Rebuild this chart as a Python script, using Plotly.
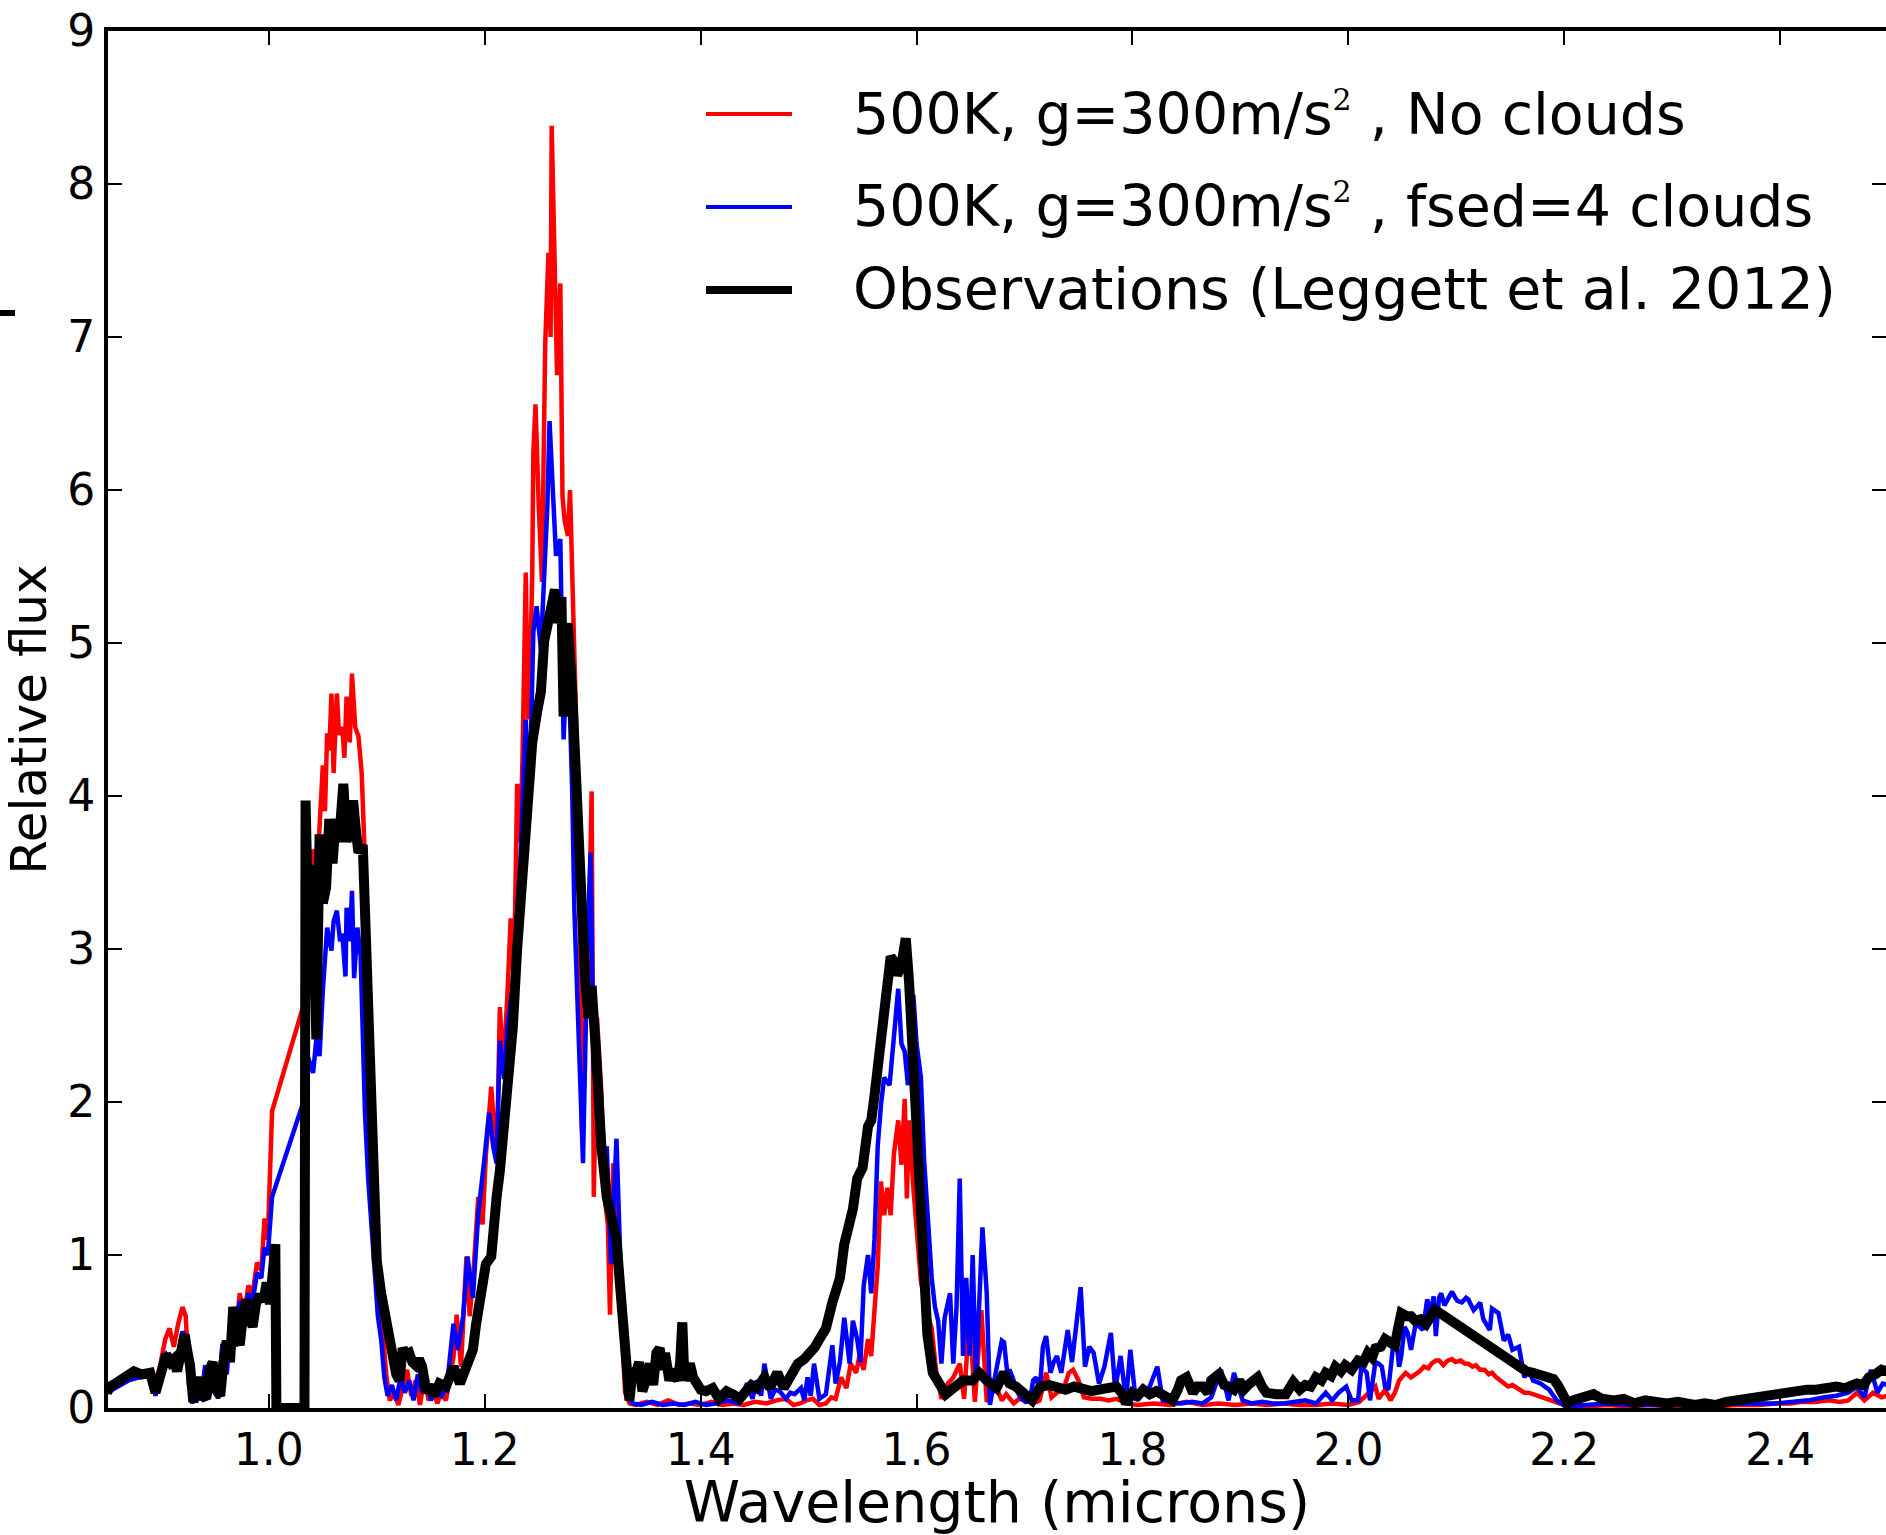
import plotly.graph_objects as go

# ---------------- data ----------------
# Model spectrum, 500K, g=300 m/s^2, no clouds  (wavelength micron, relative flux)
red_pts = [
    (0.850, 0.10), (0.860, 0.15), (0.870, 0.20), (0.880, 0.22), (0.890, 0.22), (0.895, 0.12),
    (0.900, 0.30), (0.904, 0.45), (0.908, 0.52), (0.912, 0.40), (0.916, 0.55), (0.920, 0.66),
    (0.923, 0.60), (0.926, 0.20), (0.929, 0.03), (0.933, 0.15), (0.937, 0.05), (0.941, 0.25),
    (0.945, 0.10), (0.949, 0.30), (0.953, 0.08), (0.957, 0.40), (0.961, 0.25), (0.965, 0.55),
    (0.969, 0.45), (0.973, 0.75), (0.977, 0.60), (0.981, 0.80), (0.985, 0.75), (0.989, 0.95),
    (0.993, 0.90), (0.996, 1.24), (0.999, 1.10), (1.001, 1.60), (1.003, 1.94), (1.032, 2.63),
    (1.036, 2.95), (1.041, 3.65), (1.045, 3.55), (1.047, 3.80), (1.050, 4.20), (1.052, 3.90),
    (1.054, 4.41), (1.056, 4.30), (1.058, 4.67), (1.060, 4.15), (1.063, 4.67), (1.065, 4.40),
    (1.068, 4.45), (1.070, 4.25), (1.072, 4.65), (1.075, 4.35), (1.077, 4.80), (1.080, 4.45),
    (1.083, 4.39), (1.086, 4.15), (1.089, 3.60), (1.092, 3.00), (1.095, 2.20), (1.098, 1.50),
    (1.100, 1.10), (1.103, 0.70), (1.106, 0.40), (1.109, 0.20), (1.112, 0.05), (1.116, 0.10),
    (1.120, 0.02), (1.124, 0.15), (1.128, 0.25), (1.132, 0.08), (1.136, 0.18), (1.140, 0.02),
    (1.144, 0.20), (1.148, 0.05), (1.152, 0.12), (1.156, 0.03), (1.160, 0.10), (1.164, 0.05),
    (1.168, 0.20), (1.171, 0.33), (1.174, 0.61), (1.178, 0.27), (1.183, 0.99), (1.186, 0.60),
    (1.189, 0.83), (1.194, 1.38), (1.198, 1.20), (1.201, 1.65), (1.206, 2.10), (1.209, 1.80),
    (1.211, 1.60), (1.214, 2.62), (1.217, 2.20), (1.221, 2.70), (1.224, 3.20), (1.227, 2.76),
    (1.230, 4.08), (1.233, 3.70), (1.235, 4.26), (1.238, 5.46), (1.240, 4.50), (1.242, 4.80),
    (1.244, 5.46), (1.245, 6.24), (1.247, 6.56), (1.250, 5.90), (1.253, 5.40), (1.255, 6.45),
    (1.256, 6.95), (1.259, 7.55), (1.261, 7.00), (1.262, 8.38), (1.263, 7.98), (1.265, 7.30),
    (1.267, 6.75), (1.270, 7.35), (1.272, 5.96), (1.274, 5.80), (1.277, 5.70), (1.279, 6.00),
    (1.281, 5.46), (1.284, 4.50), (1.287, 3.85), (1.290, 1.82), (1.293, 2.50), (1.296, 2.90),
    (1.299, 4.03), (1.301, 1.38), (1.304, 2.55), (1.308, 2.06), (1.311, 1.38), (1.314, 1.20),
    (1.316, 0.61), (1.319, 1.60), (1.322, 1.00), (1.325, 0.83), (1.328, 0.40), (1.330, 0.10),
    (1.334, 0.03), (1.340, 0.02), (1.350, 0.04), (1.360, 0.02), (1.370, 0.05), (1.380, 0.02),
    (1.390, 0.03), (1.400, 0.02), (1.410, 0.04), (1.420, 0.02), (1.430, 0.03), (1.440, 0.02),
    (1.450, 0.04), (1.461, 0.03), (1.470, 0.05), (1.479, 0.06), (1.486, 0.02), (1.492, 0.03),
    (1.498, 0.05), (1.504, 0.06), (1.510, 0.02), (1.516, 0.03), (1.521, 0.07), (1.525, 0.06),
    (1.530, 0.20), (1.535, 0.13), (1.539, 0.29), (1.544, 0.23), (1.547, 0.34), (1.551, 0.25),
    (1.555, 0.45), (1.558, 0.34), (1.561, 0.64), (1.564, 0.92), (1.567, 1.48), (1.570, 1.26),
    (1.573, 1.44), (1.576, 1.26), (1.579, 1.66), (1.583, 1.88), (1.586, 1.59), (1.589, 2.02),
    (1.591, 1.37), (1.593, 1.88), (1.597, 1.44), (1.601, 1.10), (1.604, 0.83), (1.609, 0.64),
    (1.614, 0.52), (1.618, 0.25), (1.623, 0.06), (1.629, 0.16), (1.634, 0.20), (1.640, 0.29),
    (1.644, 0.06), (1.649, 0.61), (1.654, 0.04), (1.660, 0.64), (1.665, 0.04), (1.670, 0.10),
    (1.674, 0.13), (1.679, 0.05), (1.683, 0.09), (1.690, 0.03), (1.695, 0.06), (1.700, 0.05),
    (1.708, 0.03), (1.714, 0.05), (1.720, 0.23), (1.725, 0.07), (1.730, 0.10), (1.736, 0.12),
    (1.741, 0.23), (1.745, 0.25), (1.750, 0.18), (1.755, 0.07), (1.762, 0.06), (1.770, 0.06),
    (1.778, 0.05), (1.785, 0.06), (1.794, 0.03), (1.805, 0.02), (1.820, 0.03), (1.835, 0.02),
    (1.850, 0.04), (1.865, 0.02), (1.880, 0.03), (1.895, 0.02), (1.910, 0.03), (1.925, 0.02),
    (1.940, 0.03), (1.955, 0.02), (1.970, 0.02), (1.985, 0.03), (2.000, 0.02), (2.010, 0.04),
    (2.019, 0.10), (2.025, 0.14), (2.028, 0.06), (2.032, 0.10), (2.034, 0.12), (2.039, 0.05),
    (2.043, 0.10), (2.047, 0.18), (2.053, 0.23), (2.058, 0.20), (2.062, 0.22), (2.066, 0.24),
    (2.070, 0.27), (2.074, 0.26), (2.077, 0.29), (2.081, 0.31), (2.084, 0.31), (2.088, 0.28),
    (2.092, 0.31), (2.096, 0.32), (2.099, 0.30), (2.104, 0.31), (2.108, 0.29), (2.111, 0.29),
    (2.115, 0.27), (2.118, 0.28), (2.122, 0.25), (2.126, 0.25), (2.130, 0.22), (2.133, 0.23),
    (2.137, 0.20), (2.141, 0.18), (2.145, 0.16), (2.148, 0.14), (2.152, 0.15), (2.156, 0.13),
    (2.160, 0.11), (2.163, 0.10), (2.167, 0.10), (2.171, 0.09), (2.175, 0.08), (2.178, 0.07),
    (2.182, 0.06), (2.186, 0.05), (2.193, 0.03), (2.200, 0.02), (2.220, 0.01), (2.240, 0.02),
    (2.260, 0.01), (2.280, 0.02), (2.300, 0.01), (2.320, 0.02), (2.340, 0.01), (2.360, 0.02),
    (2.380, 0.02), (2.396, 0.03), (2.410, 0.03), (2.420, 0.04), (2.433, 0.04), (2.445, 0.05),
    (2.455, 0.04), (2.463, 0.05), (2.471, 0.10), (2.478, 0.05), (2.486, 0.10), (2.494, 0.07),
    (2.500, 0.08),
]

# Model spectrum, 500K, g=300 m/s^2, fsed=4 clouds
blue_pts = [
    (0.850, 0.10), (0.860, 0.14), (0.870, 0.18), (0.880, 0.20), (0.890, 0.21), (0.895, 0.08),
    (0.900, 0.28), (0.905, 0.35), (0.910, 0.30), (0.915, 0.32), (0.920, 0.50), (0.923, 0.45),
    (0.926, 0.15), (0.929, 0.03), (0.933, 0.18), (0.937, 0.05), (0.941, 0.28), (0.945, 0.08),
    (0.949, 0.30), (0.953, 0.06), (0.957, 0.42), (0.961, 0.22), (0.965, 0.60), (0.969, 0.40),
    (0.973, 0.70), (0.977, 0.55), (0.981, 0.75), (0.985, 0.70), (0.989, 0.88), (0.993, 0.85),
    (0.996, 1.05), (0.999, 1.00), (1.001, 1.24), (1.003, 1.38), (1.032, 2.00), (1.036, 2.30),
    (1.041, 2.19), (1.044, 2.41), (1.047, 2.30), (1.050, 2.73), (1.054, 3.14), (1.058, 2.99),
    (1.060, 3.18), (1.063, 3.25), (1.066, 3.05), (1.068, 3.10), (1.071, 2.82), (1.072, 3.27),
    (1.075, 3.05), (1.077, 3.38), (1.079, 2.81), (1.082, 3.14), (1.085, 2.96), (1.087, 2.50),
    (1.089, 1.94), (1.092, 1.50), (1.095, 1.20), (1.098, 0.90), (1.101, 0.60), (1.104, 0.45),
    (1.107, 0.20), (1.110, 0.08), (1.114, 0.15), (1.118, 0.05), (1.122, 0.20), (1.126, 0.10),
    (1.130, 0.18), (1.134, 0.05), (1.138, 0.22), (1.142, 0.10), (1.146, 0.20), (1.150, 0.05),
    (1.155, 0.12), (1.160, 0.08), (1.165, 0.15), (1.171, 0.55), (1.175, 0.38), (1.180, 0.60),
    (1.184, 0.99), (1.189, 0.72), (1.194, 1.27), (1.200, 1.65), (1.204, 1.93), (1.208, 1.70),
    (1.211, 1.60), (1.214, 2.40), (1.218, 2.15), (1.221, 2.50), (1.226, 2.76), (1.229, 3.13),
    (1.233, 3.57), (1.238, 4.50), (1.241, 3.85), (1.245, 5.07), (1.248, 5.24), (1.252, 4.96),
    (1.255, 5.40), (1.258, 5.90), (1.260, 6.45), (1.263, 6.07), (1.266, 5.57), (1.270, 5.68),
    (1.273, 4.37), (1.277, 5.02), (1.281, 4.03), (1.283, 3.26), (1.285, 2.87), (1.288, 2.27),
    (1.291, 1.60), (1.295, 3.00), (1.298, 3.63), (1.301, 2.20), (1.305, 2.38), (1.310, 1.60),
    (1.313, 1.71), (1.317, 0.94), (1.322, 1.76), (1.327, 0.66), (1.331, 0.10), (1.337, 0.03),
    (1.345, 0.02), (1.355, 0.04), (1.365, 0.02), (1.375, 0.03), (1.385, 0.02), (1.395, 0.04),
    (1.405, 0.02), (1.415, 0.03), (1.425, 0.05), (1.435, 0.03), (1.443, 0.16), (1.448, 0.06),
    (1.452, 0.18), (1.456, 0.08), (1.459, 0.29), (1.465, 0.06), (1.469, 0.12), (1.473, 0.11),
    (1.479, 0.06), (1.483, 0.10), (1.487, 0.09), (1.493, 0.13), (1.496, 0.05), (1.499, 0.20),
    (1.502, 0.08), (1.505, 0.29), (1.510, 0.06), (1.516, 0.09), (1.522, 0.41), (1.525, 0.16),
    (1.529, 0.30), (1.533, 0.59), (1.538, 0.29), (1.541, 0.57), (1.545, 0.45), (1.548, 0.30),
    (1.551, 0.80), (1.555, 1.00), (1.558, 0.75), (1.561, 1.10), (1.564, 1.71), (1.567, 1.98),
    (1.570, 2.16), (1.575, 2.11), (1.578, 2.38), (1.581, 2.56), (1.583, 2.74), (1.586, 2.38),
    (1.589, 2.33), (1.592, 2.11), (1.597, 2.70), (1.600, 2.38), (1.604, 2.16), (1.607, 1.62),
    (1.610, 1.26), (1.614, 0.85), (1.617, 0.66), (1.620, 0.57), (1.623, 0.29), (1.626, 0.59),
    (1.631, 0.75), (1.634, 0.29), (1.637, 0.66), (1.640, 1.50), (1.643, 0.34), (1.646, 0.85),
    (1.649, 0.34), (1.652, 1.00), (1.655, 0.18), (1.658, 0.73), (1.661, 1.18), (1.665, 0.75),
    (1.668, 0.02), (1.672, 0.18), (1.677, 0.36), (1.679, 0.44), (1.681, 0.43), (1.684, 0.23),
    (1.686, 0.25), (1.689, 0.20), (1.692, 0.13), (1.696, 0.07), (1.701, 0.04), (1.705, 0.05),
    (1.708, 0.18), (1.711, 0.20), (1.714, 0.10), (1.717, 0.40), (1.720, 0.47), (1.724, 0.23),
    (1.727, 0.30), (1.730, 0.34), (1.734, 0.23), (1.740, 0.51), (1.744, 0.30), (1.749, 0.60),
    (1.752, 0.79), (1.756, 0.27), (1.760, 0.40), (1.764, 0.36), (1.769, 0.16), (1.774, 0.27),
    (1.780, 0.49), (1.784, 0.12), (1.789, 0.34), (1.794, 0.05), (1.798, 0.38), (1.803, 0.05),
    (1.810, 0.10), (1.816, 0.14), (1.823, 0.27), (1.828, 0.05), (1.835, 0.04), (1.845, 0.03),
    (1.855, 0.04), (1.865, 0.03), (1.873, 0.07), (1.882, 0.25), (1.889, 0.05), (1.894, 0.23),
    (1.902, 0.05), (1.910, 0.03), (1.920, 0.04), (1.930, 0.03), (1.940, 0.03), (1.950, 0.04),
    (1.960, 0.05), (1.970, 0.03), (1.979, 0.10), (1.985, 0.05), (1.991, 0.10), (1.998, 0.14),
    (2.003, 0.05), (2.009, 0.05), (2.012, 0.27), (2.017, 0.23), (2.020, 0.05), (2.025, 0.30),
    (2.028, 0.29), (2.031, 0.27), (2.034, 0.14), (2.037, 0.12), (2.041, 0.38), (2.044, 0.47),
    (2.047, 0.27), (2.049, 0.34), (2.052, 0.53), (2.055, 0.49), (2.058, 0.38), (2.063, 0.58),
    (2.066, 0.53), (2.069, 0.51), (2.073, 0.71), (2.076, 0.62), (2.079, 0.73), (2.081, 0.47),
    (2.084, 0.72), (2.086, 0.75), (2.089, 0.67), (2.092, 0.71), (2.096, 0.76), (2.099, 0.72),
    (2.101, 0.70), (2.105, 0.69), (2.109, 0.72), (2.111, 0.71), (2.116, 0.64), (2.120, 0.67),
    (2.122, 0.69), (2.125, 0.58), (2.128, 0.55), (2.131, 0.51), (2.133, 0.65), (2.139, 0.62),
    (2.144, 0.44), (2.148, 0.48), (2.152, 0.38), (2.158, 0.40), (2.163, 0.20), (2.167, 0.25),
    (2.171, 0.18), (2.178, 0.16), (2.182, 0.14), (2.186, 0.12), (2.193, 0.05), (2.201, 0.01),
    (2.220, 0.02), (2.240, 0.03), (2.260, 0.02), (2.280, 0.02), (2.300, 0.02), (2.320, 0.02),
    (2.340, 0.02), (2.358, 0.03), (2.380, 0.03), (2.396, 0.03), (2.410, 0.04), (2.426, 0.05),
    (2.441, 0.07), (2.452, 0.08), (2.463, 0.10), (2.471, 0.14), (2.478, 0.07), (2.484, 0.25),
    (2.490, 0.10), (2.495, 0.16), (2.500, 0.15),
]

# Observations (Leggett et al. 2012)
obs_pts = [
    (0.850, 0.10), (0.853, 0.14), (0.860, 0.17), (0.868, 0.20), (0.875, 0.24), (0.882, 0.22),
    (0.890, 0.23), (0.895, 0.10), (0.902, 0.27), (0.905, 0.35), (0.909, 0.30), (0.912, 0.32),
    (0.915, 0.24), (0.919, 0.40), (0.922, 0.48), (0.925, 0.35), (0.927, 0.28), (0.930, 0.04),
    (0.933, 0.12), (0.936, 0.20), (0.939, 0.08), (0.942, 0.06), (0.945, 0.25), (0.948, 0.30),
    (0.951, 0.12), (0.955, 0.08), (0.958, 0.30), (0.961, 0.44), (0.964, 0.30), (0.967, 0.66),
    (0.970, 0.50), (0.973, 0.41), (0.976, 0.60), (0.979, 0.71), (0.982, 0.60), (0.985, 0.53),
    (0.988, 0.68), (0.992, 0.74), (0.995, 0.70), (0.998, 0.82), (1.001, 0.68), (1.004, 0.95),
    (1.006, 1.07), (1.007, 0.00), (1.033, 0.00), (1.034, 3.97), (1.037, 3.00), (1.040, 3.55),
    (1.044, 2.41), (1.047, 3.75), (1.050, 3.30), (1.053, 3.40), (1.056, 3.85), (1.059, 3.56),
    (1.062, 3.85), (1.065, 3.70), (1.069, 4.08), (1.072, 3.70), (1.075, 3.85), (1.078, 3.97),
    (1.081, 3.75), (1.083, 3.63), (1.087, 3.68), (1.091, 2.91), (1.094, 2.10), (1.097, 1.52),
    (1.100, 0.96), (1.104, 0.75), (1.109, 0.55), (1.113, 0.36), (1.118, 0.22), (1.121, 0.18),
    (1.124, 0.39), (1.127, 0.35), (1.130, 0.36), (1.133, 0.30), (1.136, 0.28), (1.139, 0.32),
    (1.142, 0.27), (1.146, 0.10), (1.150, 0.15), (1.153, 0.08), (1.158, 0.16), (1.164, 0.14),
    (1.168, 0.20), (1.171, 0.27), (1.177, 0.16), (1.180, 0.22), (1.183, 0.27), (1.186, 0.32),
    (1.189, 0.38), (1.192, 0.55), (1.195, 0.72), (1.198, 0.80), (1.201, 0.94), (1.206, 0.99),
    (1.208, 1.20), (1.211, 1.38), (1.214, 1.55), (1.217, 1.76), (1.221, 2.10), (1.224, 2.30),
    (1.226, 2.49), (1.230, 3.00), (1.232, 3.20), (1.235, 3.46), (1.240, 3.96), (1.244, 4.35),
    (1.249, 4.57), (1.252, 4.68), (1.255, 5.01), (1.258, 5.13), (1.262, 5.24), (1.265, 5.35),
    (1.268, 5.13), (1.271, 5.30), (1.273, 4.52), (1.277, 5.13), (1.281, 4.68), (1.284, 4.13),
    (1.287, 3.57), (1.290, 3.18), (1.293, 2.80), (1.296, 2.55), (1.299, 2.76), (1.303, 2.33),
    (1.306, 1.88), (1.308, 1.71), (1.313, 1.38), (1.317, 1.22), (1.322, 1.10), (1.325, 0.83),
    (1.328, 0.55), (1.331, 0.15), (1.334, 0.05), (1.337, 0.25), (1.340, 0.23), (1.343, 0.30),
    (1.346, 0.11), (1.350, 0.20), (1.353, 0.29), (1.356, 0.15), (1.359, 0.36), (1.362, 0.39),
    (1.365, 0.25), (1.367, 0.36), (1.371, 0.18), (1.374, 0.25), (1.379, 0.18), (1.381, 0.30),
    (1.383, 0.56), (1.385, 0.18), (1.390, 0.29), (1.393, 0.20), (1.396, 0.16), (1.400, 0.12),
    (1.405, 0.11), (1.411, 0.13), (1.417, 0.06), (1.424, 0.11), (1.430, 0.09), (1.436, 0.06),
    (1.442, 0.11), (1.447, 0.15), (1.452, 0.13), (1.459, 0.20), (1.464, 0.13), (1.468, 0.18),
    (1.471, 0.23), (1.477, 0.13), (1.484, 0.23), (1.490, 0.29), (1.496, 0.32), (1.502, 0.36),
    (1.506, 0.40), (1.510, 0.45), (1.516, 0.52), (1.522, 0.69), (1.529, 0.85), (1.533, 1.07),
    (1.538, 1.21), (1.541, 1.30), (1.545, 1.50), (1.550, 1.57), (1.555, 1.84), (1.558, 1.88),
    (1.561, 2.04), (1.564, 2.24), (1.567, 2.47), (1.570, 2.65), (1.573, 2.79), (1.576, 2.95),
    (1.579, 2.92), (1.582, 2.83), (1.586, 2.90), (1.590, 3.07), (1.593, 2.79), (1.595, 2.51),
    (1.598, 2.11), (1.601, 1.66), (1.604, 1.21), (1.607, 0.80), (1.610, 0.48), (1.615, 0.23),
    (1.621, 0.16), (1.627, 0.09), (1.634, 0.13), (1.643, 0.18), (1.652, 0.18), (1.658, 0.23),
    (1.665, 0.18), (1.674, 0.13), (1.681, 0.23), (1.686, 0.16), (1.692, 0.14), (1.700, 0.08),
    (1.707, 0.05), (1.711, 0.10), (1.715, 0.14), (1.723, 0.15), (1.730, 0.13), (1.738, 0.12),
    (1.746, 0.14), (1.754, 0.13), (1.762, 0.11), (1.769, 0.12), (1.777, 0.13), (1.785, 0.14),
    (1.790, 0.10), (1.794, 0.03), (1.800, 0.10), (1.805, 0.08), (1.810, 0.12), (1.816, 0.09),
    (1.822, 0.11), (1.830, 0.08), (1.837, 0.05), (1.842, 0.12), (1.845, 0.18), (1.850, 0.20),
    (1.856, 0.10), (1.860, 0.14), (1.865, 0.14), (1.870, 0.10), (1.873, 0.18), (1.880, 0.22),
    (1.885, 0.15), (1.889, 0.14), (1.894, 0.12), (1.899, 0.18), (1.903, 0.12), (1.907, 0.15),
    (1.912, 0.17), (1.916, 0.20), (1.920, 0.14), (1.924, 0.10), (1.933, 0.09), (1.942, 0.09),
    (1.949, 0.17), (1.955, 0.12), (1.960, 0.15), (1.965, 0.14), (1.970, 0.20), (1.975, 0.18),
    (1.979, 0.23), (1.984, 0.21), (1.988, 0.27), (1.993, 0.24), (1.997, 0.28), (2.003, 0.25),
    (2.009, 0.31), (2.014, 0.30), (2.018, 0.36), (2.022, 0.33), (2.025, 0.39), (2.030, 0.40),
    (2.034, 0.45), (2.039, 0.43), (2.043, 0.41), (2.046, 0.52), (2.049, 0.62), (2.054, 0.60),
    (2.058, 0.60), (2.062, 0.57), (2.067, 0.58), (2.072, 0.55), (2.076, 0.60), (2.080, 0.64),
    (2.085, 0.62), (2.089, 0.60), (2.095, 0.58), (2.101, 0.55), (2.107, 0.53), (2.113, 0.49),
    (2.120, 0.46), (2.126, 0.43), (2.133, 0.40), (2.140, 0.36), (2.146, 0.33), (2.152, 0.30),
    (2.158, 0.27), (2.165, 0.24), (2.171, 0.23), (2.178, 0.21), (2.184, 0.20), (2.190, 0.19),
    (2.194, 0.15), (2.197, 0.10), (2.200, 0.05), (2.203, 0.03), (2.208, 0.05), (2.216, 0.07),
    (2.222, 0.08), (2.227, 0.09), (2.235, 0.06), (2.246, 0.05), (2.255, 0.06), (2.265, 0.03),
    (2.275, 0.05), (2.283, 0.04), (2.295, 0.03), (2.305, 0.04), (2.321, 0.02), (2.330, 0.03),
    (2.340, 0.02), (2.350, 0.04), (2.358, 0.05), (2.368, 0.05), (2.377, 0.07), (2.385, 0.08),
    (2.396, 0.09), (2.405, 0.10), (2.415, 0.11), (2.425, 0.12), (2.433, 0.12), (2.442, 0.13),
    (2.452, 0.14), (2.460, 0.13), (2.467, 0.16), (2.471, 0.16), (2.477, 0.15), (2.482, 0.20),
    (2.488, 0.22), (2.494, 0.25), (2.500, 0.24),
]

SUP2 = "<sup><span style='font-size:30px;font-family:DejaVu Serif'>2</span></sup>"
series_names = [
    "500K, g=300m/s" + SUP2 + " , No clouds",
    "500K, g=300m/s" + SUP2 + " , fsed=4 clouds",
    "Observations (Leggett et al. 2012)",
]

x_tick_vals = [1.0, 1.2, 1.4, 1.6, 1.8, 2.0, 2.2, 2.4]
x_tick_text = ["1.0", "1.2", "1.4", "1.6", "1.8", "2.0", "2.2", "2.4"]
y_tick_vals = [0, 1, 2, 3, 4, 5, 6, 7, 8, 9]
y_tick_text = ["0", "1", "2", "3", "4", "5", "6", "7", "8", "9"]

# ---------------- figure ----------------
FONT = "DejaVu Sans"
W, H = 1886, 1535
ML, MR, MT, MB = 108, 0, 31, 127
PW, PH = W - ML - MR, H - MT - MB


def px_to_paper_x(px):
    return (px - ML) / PW


def px_to_paper_y(py):
    return (H - MB - py) / PH


fig = go.Figure()
styles = [("#ff0000", 4.5), ("#0000ff", 4.5), ("#000000", 10)]
for pts, name, (col, lw) in zip([red_pts, blue_pts, obs_pts], series_names, styles):
    fig.add_trace(go.Scatter(
        x=[p[0] for p in pts], y=[p[1] for p in pts], mode="lines", name=name,
        line=dict(color=col, width=lw), showlegend=False,
    ))

axis_common = dict(
    showline=True, linewidth=4, linecolor="black", mirror="allticks",
    ticks="inside", ticklen=14, tickwidth=1.5, tickcolor="black",
    showgrid=False, zeroline=False,
    tickfont=dict(family=FONT, size=44, color="black"),
)

fig.update_layout(
    width=W, height=H,
    margin=dict(l=ML, r=MR, t=MT, b=MB, autoexpand=False),
    paper_bgcolor="white", plot_bgcolor="white",
    font=dict(family=FONT, color="black"),
    xaxis=dict(range=[0.851, 2.498], tickvals=x_tick_vals, ticktext=x_tick_text,
               title=dict(text="Wavelength (microns)", font=dict(family=FONT, size=57), standoff=9),
               automargin=False, **axis_common),
    yaxis=dict(range=[0, 9], tickvals=y_tick_vals, ticktext=y_tick_text,
               title=dict(text="Relative flux", font=dict(family=FONT, size=50), standoff=8),
               automargin=False, **axis_common),
)

# hand-drawn legend (long line samples as in the reference)
legend_rows = [(114, 114), (207, 206), (290, 289)]
legend_widths = [4, 4, 8]
for (col, lw), name, (ly, ty), sw in zip(styles, series_names, legend_rows, legend_widths):
    fig.add_shape(type="line", xref="paper", yref="paper",
                  x0=px_to_paper_x(706), x1=px_to_paper_x(792),
                  y0=px_to_paper_y(ly), y1=px_to_paper_y(ly),
                  line=dict(color=col, width=sw))
    fig.add_annotation(xref="paper", yref="paper", x=px_to_paper_x(851), y=px_to_paper_y(ty),
                       xanchor="left", yanchor="middle", showarrow=False, text=name,
                       font=dict(family=FONT, size=57, color="black"))

# small clipped stub at far left of the reference image
fig.add_shape(type="line", xref="paper", yref="paper",
              x0=px_to_paper_x(0), x1=px_to_paper_x(15),
              y0=px_to_paper_y(313), y1=px_to_paper_y(313),
              line=dict(color="black", width=6))

fig.write_html("out.html")
